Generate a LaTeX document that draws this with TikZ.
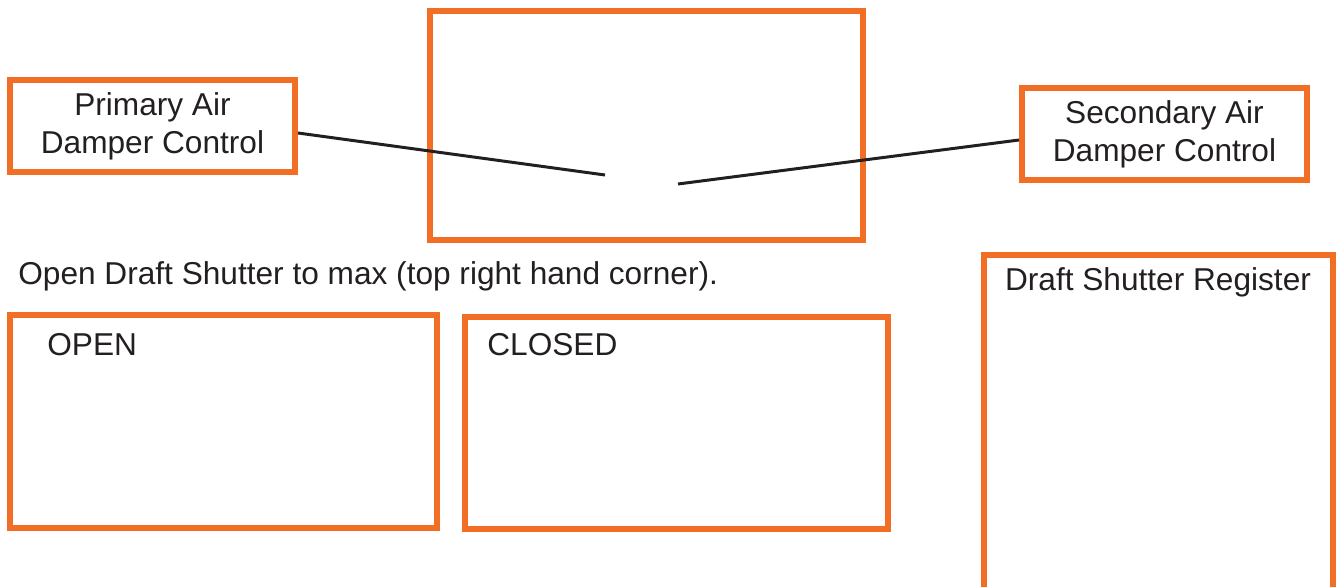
\documentclass[tikz,border=0pt]{standalone}
\usepackage{fontspec}
\setmainfont{Liberation Sans}
\definecolor{damperorange}{RGB}{242,110,36}
\definecolor{leadblack}{RGB}{35,31,32}
\tikzset{
  panel/.style={draw=damperorange, line width=3.4pt, inner sep=0pt, align=center,
    font=\fontsize{18}{21.5}\selectfont, text=leadblack},
  caption/.style={anchor=base west, inner sep=0pt, font=\fontsize{18}{21.5}\selectfont, text=leadblack},
  lead/.style={draw=leadblack, line width=1.7pt}
}

\begin{document}
\begin{tikzpicture}[x=0.02cm,y=-0.02cm]
\useasboundingbox (0,0) rectangle (1339,587);
% top row: stove front and the two dampers
\node[panel, minimum width=8.66cm, minimum height=4.58cm] (stove) at (646.5,125.5) {};
\node[panel, minimum width=5.70cm, minimum height=1.84cm] (primary) at (152.5,126) {Primary Air\\Damper Control};
\node[panel, minimum width=5.70cm, minimum height=1.84cm] (secondary) at (1164.5,134) {Secondary Air\\Damper Control};
\coordinate (pend) at (605,175);
\coordinate (send) at (678,184);
\draw[lead] (primary.east) ++(0,7) -- (pend);
\draw[lead] (secondary.west) ++(0,6) -- (send);
% instruction
\node[caption] (note) at (18,285) {Open Draft Shutter to max (top right hand corner).};
% open / closed views
\node[panel, minimum width=8.54cm, minimum height=4.26cm] (open) at (223.5,421.5) {};
\node[caption] (openlbl) at (47,356) {OPEN};
\node[panel, minimum width=8.46cm, minimum height=4.24cm] (closed) at (676.5,423) {};
\node[caption] (closedlbl) at (487,356) {CLOSED};
% register, runs off the page
\draw[draw=damperorange, line width=3.4pt] (984,620) -- (984,255) -- (1333,255) -- (1333,620);
\node[caption, anchor=base] (reglbl) at (1158,291) {Draft Shutter Register};
\end{tikzpicture}
\end{document}
